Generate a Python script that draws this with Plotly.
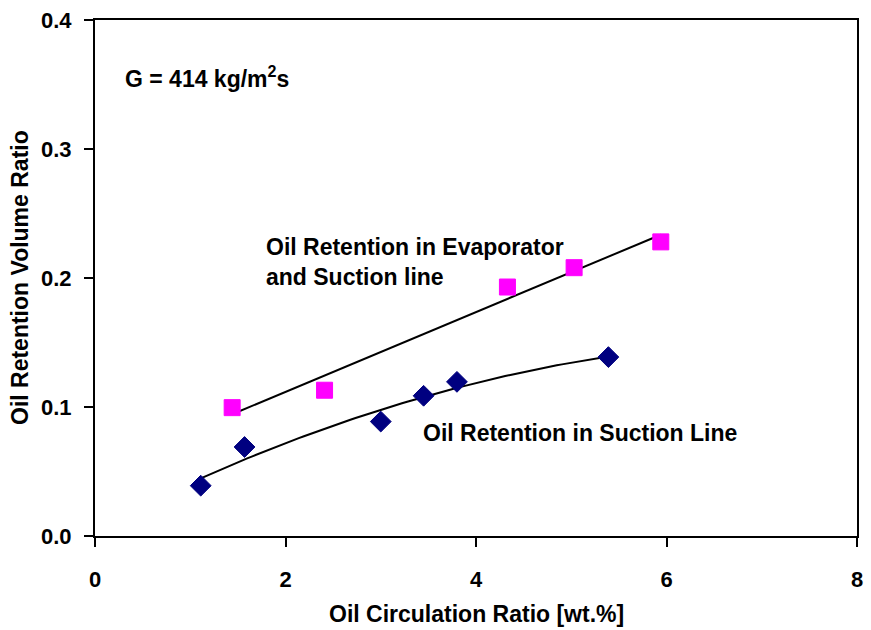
import numpy as np
import plotly.graph_objects as go

# Data
evap_x = [1.44, 2.41, 4.33, 5.03, 5.94]
evap_y = [0.0995, 0.113, 0.193, 0.208, 0.228]

suct_x = [1.11, 1.57, 3.00, 3.45, 3.80, 5.39]
suct_y = [0.039, 0.069, 0.0887, 0.1087, 0.1195, 0.1387]

x_ticks = [0, 2, 4, 6, 8]
y_ticks = [0.0, 0.1, 0.2, 0.3, 0.4]

FONT = "Liberation Sans, Arial, sans-serif"
TICK_FS = 22
TEXT_FS = 23

# Trend lines fitted from the data
ex = np.linspace(min(evap_x), max(evap_x), 60)
ec = np.polyfit(evap_x, evap_y, 1)
ey = np.polyval(ec, ex)

sx = np.linspace(min(suct_x), max(suct_x), 80)
sc = np.polyfit(suct_x, suct_y, 2)
sy = np.polyval(sc, sx)

fig = go.Figure()
fig.add_trace(go.Scatter(x=ex, y=ey, mode="lines",
                         line=dict(color="black", width=2), showlegend=False, hoverinfo="skip"))
fig.add_trace(go.Scatter(x=sx, y=sy, mode="lines",
                         line=dict(color="black", width=2), showlegend=False, hoverinfo="skip"))
fig.add_trace(go.Scatter(x=evap_x, y=evap_y, mode="markers",
                         marker=dict(symbol="square", size=16, color="#FF00FF",
                                     line=dict(color="#FF00FF", width=1)),
                         showlegend=False))
fig.add_trace(go.Scatter(x=suct_x, y=suct_y, mode="markers",
                         marker=dict(symbol="diamond", size=16, color="#000080",
                                     line=dict(color="#000080", width=1)),
                         showlegend=False))

afont = dict(family=FONT, size=TEXT_FS, color="black", weight="bold")
fig.add_annotation(x=0.29, y=0.3557, xref="x", yref="y", text="G = 414 kg/m<sup>2</sup>s",
                   showarrow=False, xanchor="left", yanchor="middle", font=afont)
fig.add_annotation(x=1.77, y=0.2127, xref="x", yref="y",
                   text="Oil Retention in Evaporator<br>and Suction line",
                   showarrow=False, xanchor="left", yanchor="middle", align="left", font=afont)
fig.add_annotation(x=3.42, y=0.0798, xref="x", yref="y", text="Oil Retention in Suction Line",
                   showarrow=False, xanchor="left", yanchor="middle", font=afont)

# Axis titles
fig.add_annotation(x=0.5, y=0, xref="paper", yref="paper", text="Oil Circulation Ratio [wt.%]",
                   showarrow=False, xanchor="center", yanchor="middle", yshift=-78, font=afont)
fig.add_annotation(x=0, y=0.5, xref="paper", yref="paper", text="Oil Retention Volume Ratio",
                   showarrow=False, xanchor="center", yanchor="middle", xshift=-75,
                   textangle=-90, font=afont)

tfont = dict(family=FONT, size=TICK_FS, color="black", weight="bold")
fig.update_xaxes(range=[0, 8], tickvals=x_ticks, ticktext=[str(v) for v in x_ticks],
                 ticks="outside", ticklen=9, tickwidth=2, tickcolor="black",
                 showline=True, linewidth=2, linecolor="black", mirror=True,
                 showgrid=False, zeroline=False, tickfont=tfont, ticklabelstandoff=14)
fig.update_yaxes(range=[0, 0.4], tickvals=y_ticks, ticktext=[f"{v:.1f}" for v in y_ticks],
                 ticks="outside", ticklen=9, tickwidth=2, tickcolor="black",
                 showline=True, linewidth=2, linecolor="black", mirror=True,
                 showgrid=False, zeroline=False, tickfont=tfont, ticklabelstandoff=8)
fig.update_layout(width=871, height=630, margin=dict(l=95, r=8, t=15, b=94),
                  paper_bgcolor="white", plot_bgcolor="white", font=dict(family=FONT))
fig.write_html("out.html")
